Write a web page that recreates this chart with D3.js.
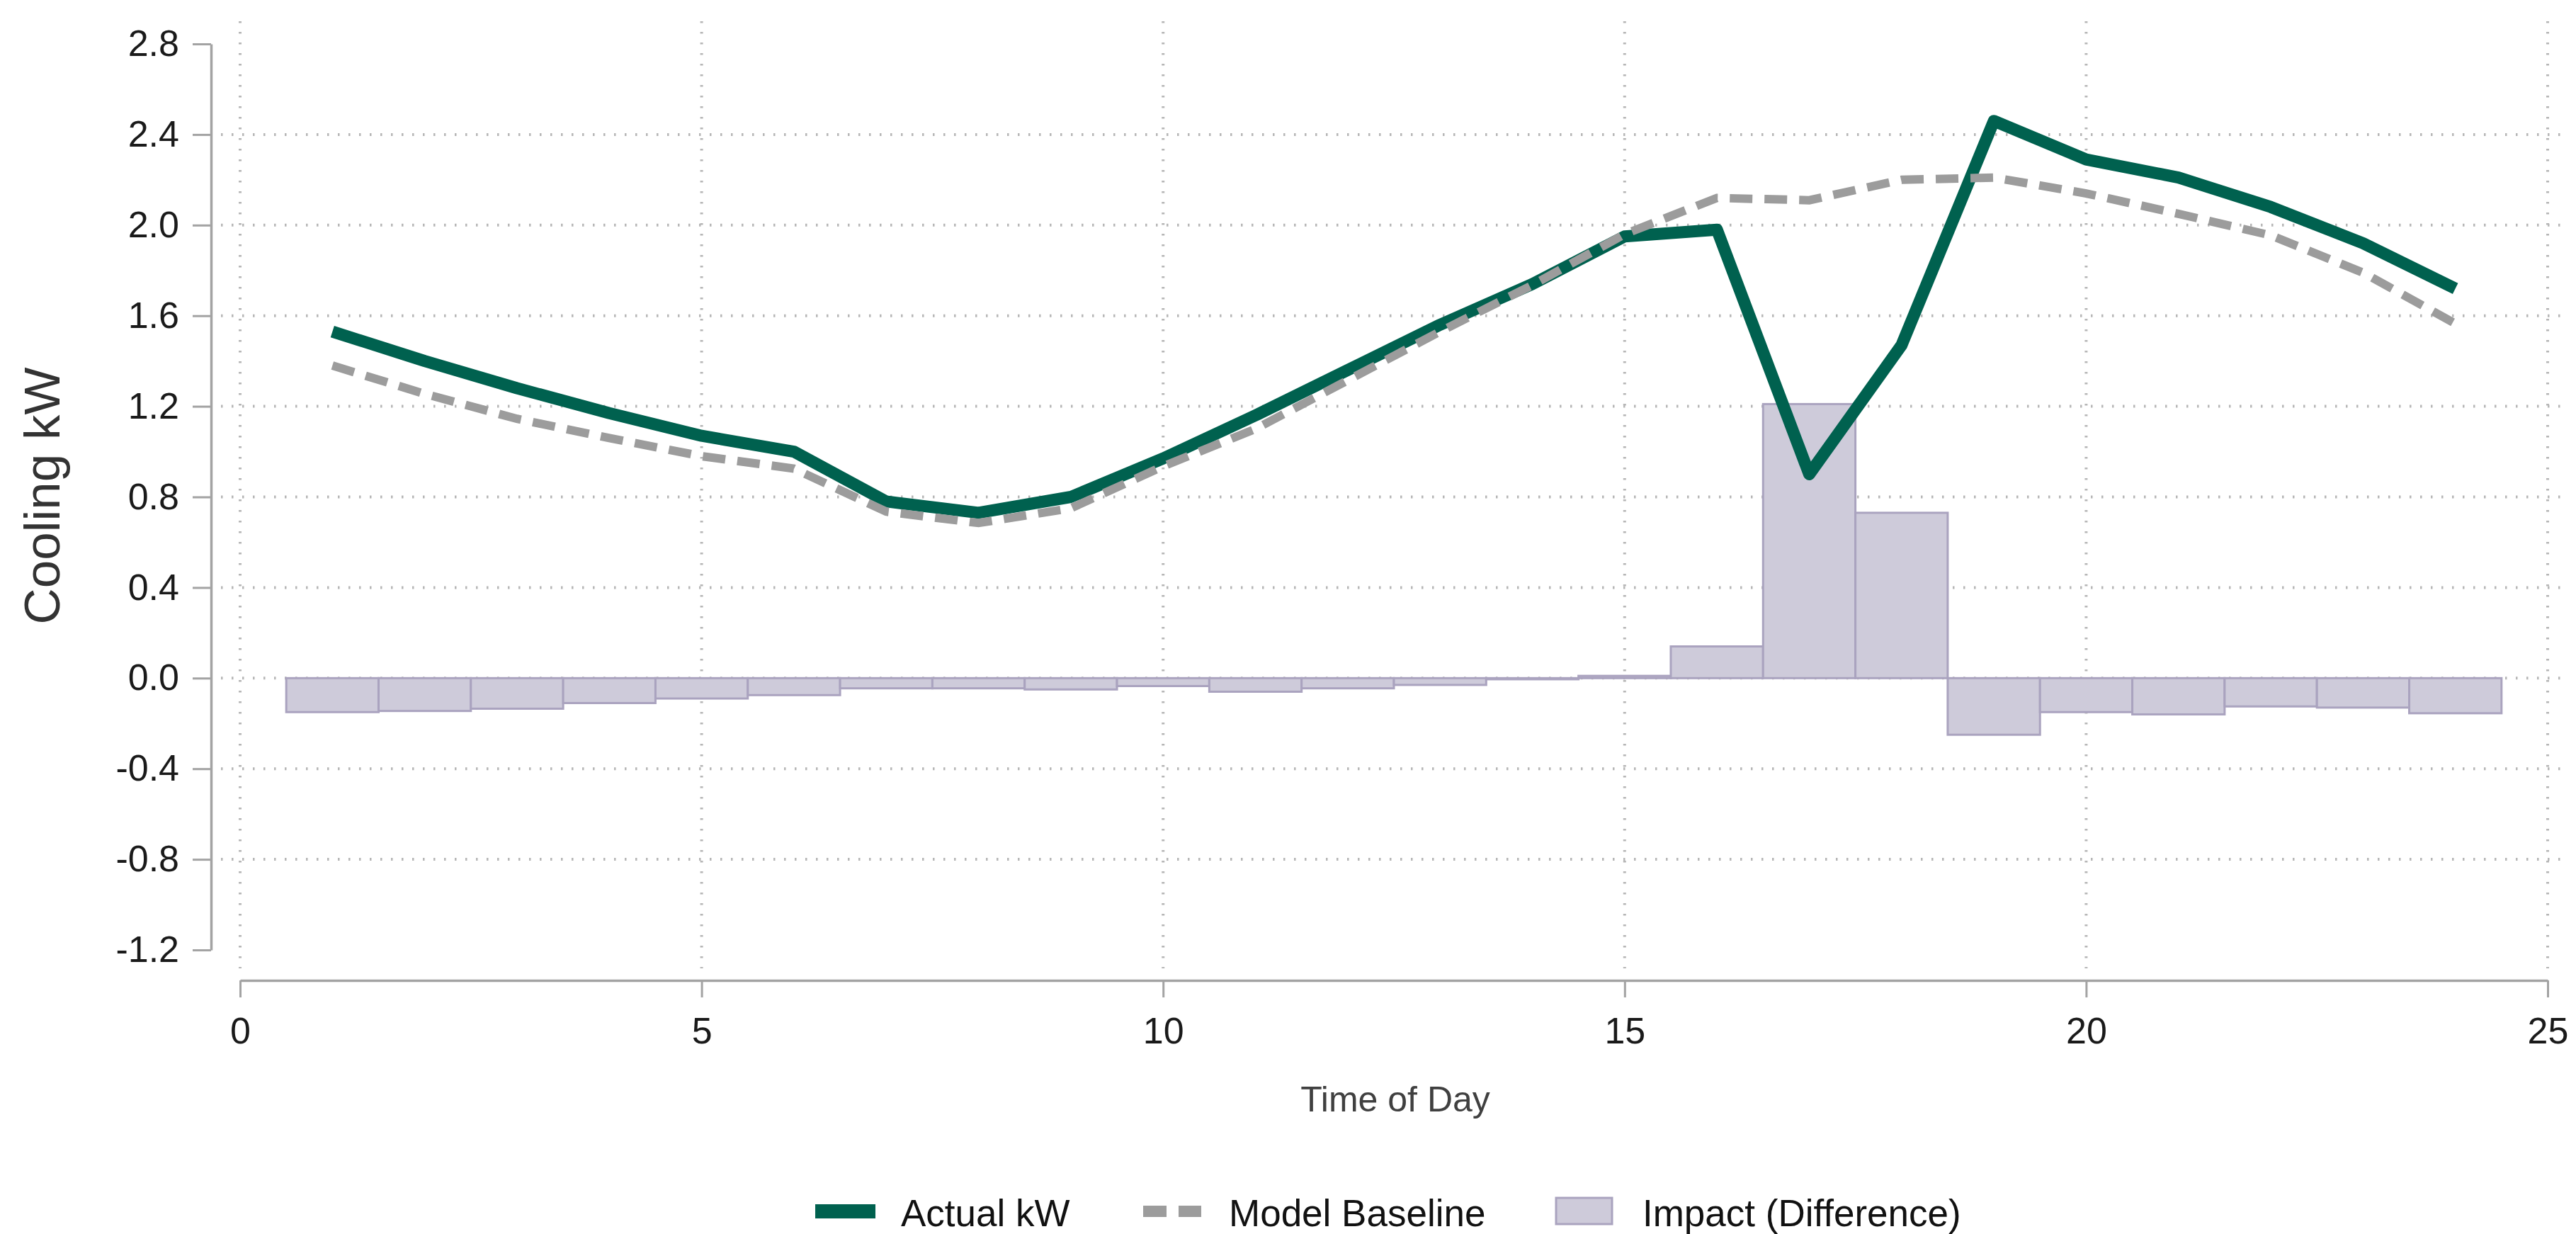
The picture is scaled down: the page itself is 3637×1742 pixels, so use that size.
<!DOCTYPE html>
<html>
<head>
<meta charset="utf-8">
<script src="https://cdn.jsdelivr.net/npm/d3@7"></script>
<style>
  html, body { margin: 0; padding: 0; background: #ffffff; }
  svg { display: block; }
</style>
</head>
<body>
<svg id="chart" width="3637" height="1742"></svg>
<script>
// ---- data ----
const hours = [1,2,3,4,5,6,7,8,9,10,11,12,13,14,15,16,17,18,19,20,21,22,23,24];
const actualKW = [1.53,1.40,1.28,1.17,1.07,1.00,0.78,0.73,0.80,0.97,1.16,1.36,1.56,1.74,1.95,1.98,0.90,1.47,2.46,2.29,2.21,2.08,1.92,1.72];
const modelBaseline = [1.38,1.255,1.145,1.06,0.98,0.925,0.735,0.685,0.75,0.935,1.10,1.315,1.53,1.735,1.96,2.12,2.11,2.20,2.21,2.14,2.05,1.955,1.79,1.565];
const impact = [-0.15,-0.145,-0.135,-0.11,-0.09,-0.075,-0.045,-0.045,-0.05,-0.035,-0.06,-0.045,-0.03,-0.005,0.01,0.14,1.21,0.73,-0.25,-0.15,-0.16,-0.125,-0.13,-0.155];
const xTicks = [0,5,10,15,20,25];
const yTicks = [-1.2,-0.8,-0.4,0.0,0.4,0.8,1.2,1.6,2.0,2.4,2.8];
const yGridTicks = [-0.8,-0.4,0.0,0.4,0.8,1.2,1.6,2.0,2.4];
const legendLabels = ["Actual kW","Model Baseline","Impact (Difference)"];

// ---- styles ----
const FONT = "'Liberation Sans', Arial, Helvetica, sans-serif";
const GREEN = "#00614f";
const GRAY = "#9c9c9c";
const BAR_FILL = "#cecbda";
const BAR_STROKE = "#aaa3bf";
const AXIS = "#a3a3a3";
const GRID = "#b6b6b6";

const svg = d3.select("#chart");
const x = d3.scaleLinear().domain([0, 25]).range([339, 3597]);
const y = d3.scaleLinear().domain([-1.2, 2.8]).range([1341, 62]);

// grid
const grid = svg.append("g");
grid.selectAll("line.v").data(xTicks).join("line")
  .attr("x1", d => x(d)).attr("x2", d => x(d))
  .attr("y1", 30).attr("y2", 1367)
  .attr("stroke", GRID).attr("stroke-width", 4)
  .attr("stroke-dasharray", "2.5,12.5");
grid.selectAll("line.h").data(yGridTicks).join("line")
  .attr("x1", 312).attr("x2", 3625)
  .attr("y1", d => y(d)).attr("y2", d => y(d))
  .attr("stroke", GRID).attr("stroke-width", 4)
  .attr("stroke-dasharray", "2.5,12.5");

// bars
const barData = hours.map((h, i) => ({h, v: impact[i]}));
svg.append("g").selectAll("rect").data(barData).join("rect")
  .attr("x", d => x(d.h - 0.5))
  .attr("width", d => x(d.h + 0.5) - x(d.h - 0.5))
  .attr("y", d => Math.min(y(d.v), y(0)))
  .attr("height", d => Math.abs(y(d.v) - y(0)))
  .attr("fill", BAR_FILL)
  .attr("stroke", BAR_STROKE)
  .attr("stroke-width", 3);

// lines
const line = d3.line().x(d => x(d[0])).y(d => y(d[1]));
svg.append("path")
  .datum(hours.map((h, i) => [h, actualKW[i]]))
  .attr("d", line)
  .attr("fill", "none").attr("stroke", GREEN)
  .attr("stroke-width", 17).attr("stroke-linejoin", "round");
svg.append("path")
  .datum(hours.map((h, i) => [h, modelBaseline[i]]))
  .attr("d", line)
  .attr("fill", "none").attr("stroke", GRAY)
  .attr("stroke-width", 12).attr("stroke-dasharray", "32,17");

// axes
const fmt = d => d.toFixed(1);
const yAxis = svg.append("g").attr("transform", "translate(298,0)")
  .call(d3.axisLeft(y).tickValues(yTicks).tickFormat(fmt).tickSize(26).tickSizeOuter(0).tickPadding(19));
const xAxis = svg.append("g").attr("transform", "translate(0,1384)")
  .call(d3.axisBottom(x).tickValues(xTicks).tickFormat(d3.format("d")).tickSize(24).tickSizeOuter(0).tickPadding(28));
[yAxis, xAxis].forEach(a => {
  a.select(".domain").attr("stroke", AXIS).attr("stroke-width", 3.5);
  a.selectAll(".tick line").attr("stroke", AXIS).attr("stroke-width", 3);
  a.selectAll(".tick text").attr("font-family", FONT).attr("font-size", 52).attr("fill", "#1a1a1a");
});

// axis titles
svg.append("text")
  .attr("transform", "translate(84,700) rotate(-90)")
  .attr("text-anchor", "middle")
  .attr("font-family", FONT).attr("font-size", 71).attr("fill", "#333")
  .text("Cooling kW");
svg.append("text")
  .attr("x", 1970).attr("y", 1569)
  .attr("text-anchor", "middle")
  .attr("font-family", FONT).attr("font-size", 50).attr("fill", "#404040")
  .text("Time of Day");

// legend
const lg = svg.append("g");
const legendX = [1151, 1614, 2197];
const textX = [1272, 1735, 2319];
lg.append("line").attr("x1", legendX[0]).attr("x2", legendX[0] + 85)
  .attr("y1", 1710).attr("y2", 1710)
  .attr("stroke", GREEN).attr("stroke-width", 20);
lg.append("line").attr("x1", legendX[1]).attr("x2", legendX[1] + 82)
  .attr("y1", 1710).attr("y2", 1710)
  .attr("stroke", GRAY).attr("stroke-width", 16).attr("stroke-dasharray", "33,17");
lg.append("rect").attr("x", legendX[2]).attr("y", 1691)
  .attr("width", 79).attr("height", 37)
  .attr("fill", BAR_FILL).attr("stroke", BAR_STROKE).attr("stroke-width", 3);
lg.selectAll("text").data(legendLabels).join("text")
  .attr("x", (d, i) => textX[i]).attr("y", 1731)
  .attr("font-family", FONT).attr("font-size", 53).attr("fill", "#111")
  .text(d => d);
</script>
</body>
</html>
